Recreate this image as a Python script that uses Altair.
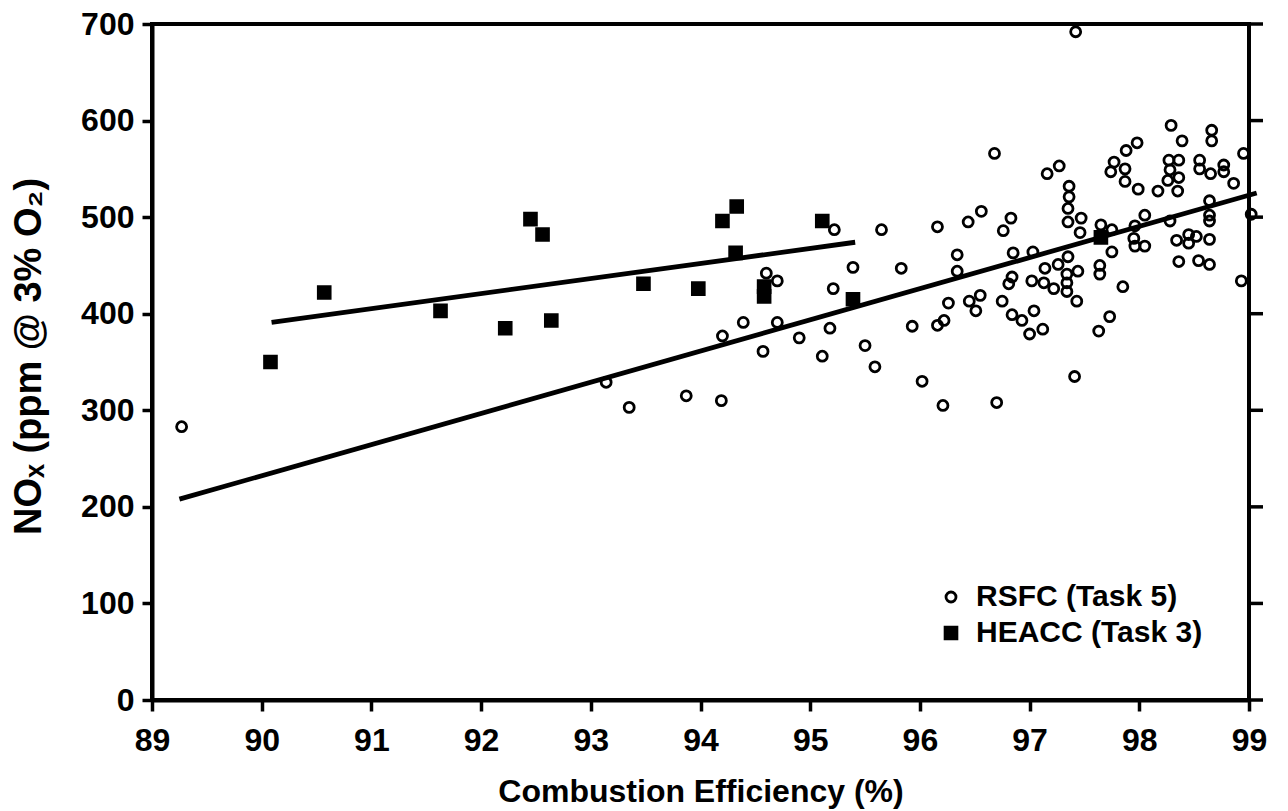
import altair as alt
import pandas as pd

# ---- data ----
rsfc_x = [89.27,
          95.22, 95.65, 94.60, 94.70, 95.39, 95.83, 95.21, 94.39, 94.70, 94.20,
          94.90, 95.18, 94.57, 95.11, 95.50, 95.59, 93.14, 93.35, 93.87, 94.19,
          96.68, 97.16, 97.27, 97.36, 97.36, 97.35, 97.35, 97.47, 97.46, 96.16,
          96.44, 96.56, 96.83, 96.76, 96.34, 96.34, 96.85, 97.03, 97.35, 97.14,
          97.26, 97.34, 97.44, 97.02, 97.13, 97.22, 97.34, 97.34, 97.43, 96.84,
          96.81, 96.55, 96.45, 96.51, 96.26, 96.75, 96.84, 96.93, 97.04, 97.00,
          97.12, 95.93, 96.16, 96.22, 97.41, 96.02, 96.21, 96.70,
          98.29, 98.66, 98.66, 98.39, 97.98, 97.88, 98.95, 97.77, 97.74, 97.87,
          97.87, 97.99, 98.17, 98.27, 98.36, 98.28, 98.36, 98.26, 98.35, 98.55,
          98.55, 98.65, 98.77, 98.77, 98.86, 98.64, 98.64, 98.64, 99.02, 98.28,
          98.05, 97.96, 97.75, 97.65, 97.95, 97.96, 98.05, 97.75, 98.34, 98.45,
          98.52, 98.45, 98.64, 98.36, 98.54, 98.64, 98.93, 97.64, 97.64, 97.85,
          97.73, 97.63, 97.42]
rsfc_y = [283,
          487, 487, 442, 434, 448, 447, 426, 391, 391, 377,
          375, 385, 361, 356, 367, 345, 329, 303, 315, 310,
          566, 545, 553, 532, 521, 509, 495, 499, 484, 490,
          495, 506, 499, 486, 461, 444, 463, 464, 459, 447,
          451, 441, 444, 434, 432, 426, 432, 423, 413, 438,
          431, 419, 413, 403, 411, 413, 399, 393, 403, 379,
          384, 387, 388, 393, 335, 330, 305, 308,
          595, 590, 579, 579, 577, 569, 566, 557, 547, 550,
          537, 529, 527, 559, 559, 549, 541, 538, 527, 559,
          550, 545, 554, 547, 535, 517, 502, 496, 503, 496,
          502, 491, 487, 492, 478, 470, 470, 464, 476, 482,
          480, 473, 477, 454, 455, 451, 434, 450, 441, 428,
          397, 382, 692]

heacc_x = [90.08, 90.57, 91.63, 92.22, 92.45, 92.56, 92.64, 93.48, 93.98,
           94.20, 94.33, 94.32, 94.58, 94.58, 95.11, 95.39, 97.65]
heacc_y = [350, 422, 403, 385, 498, 482, 393, 431, 426,
           496, 511, 463, 428, 418, 496, 415, 479]

rsfc_fit_x = [89.25, 99.07]
rsfc_fit_y = [208, 525]
heacc_fit_x = [90.09, 95.41]
heacc_fit_y = [391, 474]

x_ticks = list(range(89, 100))
y_ticks = list(range(0, 701, 100))
series_names = ["RSFC (Task 5)", "HEACC (Task 3)"]

# ---- tables ----
pts = pd.concat([
    pd.DataFrame({"x": rsfc_x, "y": rsfc_y, "series": series_names[0]}),
    pd.DataFrame({"x": heacc_x, "y": heacc_y, "series": series_names[1]}),
], ignore_index=True)
fits = pd.concat([
    pd.DataFrame({"x": rsfc_fit_x, "y": rsfc_fit_y, "series": series_names[0]}),
    pd.DataFrame({"x": heacc_fit_x, "y": heacc_fit_y, "series": series_names[1]}),
], ignore_index=True)
right_ticks = pd.DataFrame({"y": y_ticks})

FONT = "Liberation Sans"
W, H = 1097, 676

x_scale = alt.Scale(domain=[89, 99], nice=False, zero=False)
y_scale = alt.Scale(domain=[0, 700], nice=False, zero=True)

x_axis = alt.Axis(values=x_ticks, format="d", title="Combustion Efficiency (%)",
                  grid=False, domainColor="black", domainWidth=4,
                  tickColor="black", tickWidth=3.5, tickSize=11,
                  labelFont=FONT, labelFontSize=32, labelFontWeight="bold",
                  labelColor="black", labelPadding=14, labelFlush=False,
                  labelOverlap=False, labelBound=False,
                  titleFont=FONT, titleFontSize=32, titleFontWeight="bold",
                  titleColor="black", titlePadding=20)
y_axis = alt.Axis(values=y_ticks, format="d", title="NOₓ (ppm @ 3% O₂)",
                  grid=False, domainColor="black", domainWidth=4,
                  tickColor="black", tickWidth=3.5, tickSize=10,
                  labelFont=FONT, labelFontSize=32, labelFontWeight="bold",
                  labelColor="black", labelPadding=8, labelFlush=False,
                  labelOverlap=False, labelBound=False,
                  titleFont=FONT, titleFontSize=38, titleFontWeight="bold",
                  titleColor="black", titlePadding=32, titleY=332)

X = alt.X("x:Q", scale=x_scale, axis=x_axis)
Y = alt.Y("y:Q", scale=y_scale, axis=y_axis)

legend = alt.Legend(title=None, orient="none", legendX=784, legendY=558,
                    labelFont=FONT, labelFontSize=30, labelFontWeight="bold",
                    labelColor="black", labelOffset=10, rowPadding=6,
                    labelLimit=400, symbolStrokeWidth=2.8)

lines = alt.Chart(fits).mark_line(color="black", strokeWidth=4.8).encode(
    x=X, y=Y, detail="series:N")

points = alt.Chart(pts).mark_point(filled=True, strokeWidth=2.8,
                                   opacity=1).encode(
    x=X, y=Y,
    shape=alt.Shape("series:N", scale=alt.Scale(domain=series_names,
                                                range=["circle", "square"]),
                    legend=legend),
    fill=alt.Fill("series:N", scale=alt.Scale(domain=series_names,
                                              range=["transparent", "black"]),
                  legend=legend),
    stroke=alt.Stroke("series:N", scale=alt.Scale(domain=series_names,
                                                  range=["black", "black"]),
                      legend=legend),
    size=alt.Size("series:N", scale=alt.Scale(domain=series_names,
                                              range=[100, 140]),
                  legend=legend),
)

rticks = alt.Chart(right_ticks).mark_rule(color="black", strokeWidth=3.5).encode(
    x=alt.value(W), x2=alt.value(W + 14), y=alt.Y("y:Q", scale=y_scale, axis=y_axis))

chart = alt.layer(lines, points, rticks).properties(
    width=W, height=H,
    padding={"left": 152, "top": 24, "right": 39, "bottom": 111},
    autosize=alt.AutoSizeParams(type="none"),
    background="white",
).configure_view(stroke="black", strokeWidth=4)

chart.save("out.html", embed_options={"renderer": "svg", "actions": False})
